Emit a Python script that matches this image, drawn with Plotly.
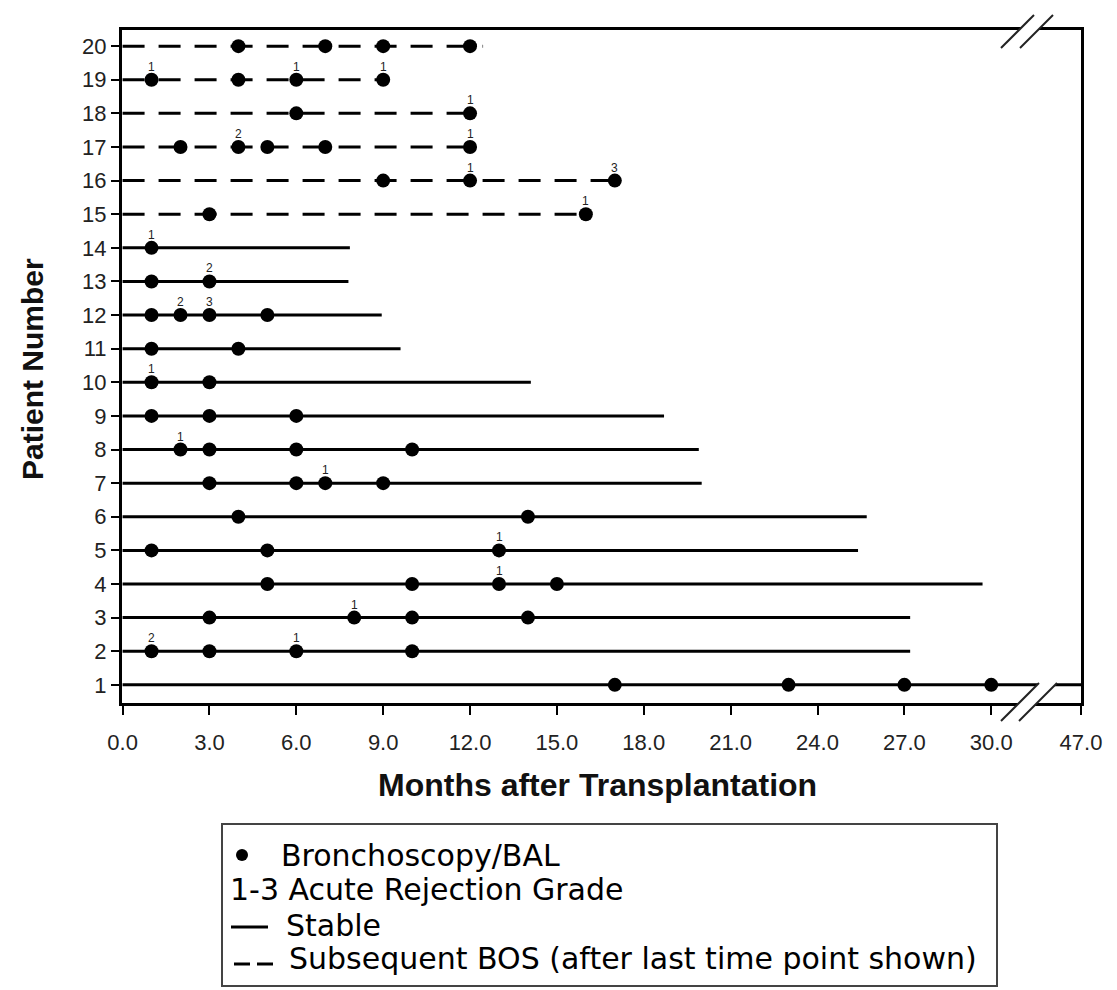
import plotly.graph_objects as go

# ---------------- data ----------------
PATIENTS = list(range(1, 21))
# months of follow-up shown for each patient (line end); patient 1 runs to 47 (axis break)
FOLLOWUP_END = [47, 27.2, 27.2, 29.7, 25.4, 25.7, 20.0, 19.9, 18.7, 14.1,
                9.6, 8.95, 7.8, 7.85, 16, 17, 12, 12, 9, 12.45]
# True = subsequent BOS (dashed), False = stable (solid)
SUBSEQUENT_BOS = [False] * 14 + [True] * 6
# months of bronchoscopy/BAL per patient
BRONCH_MONTHS = [
    [17, 23, 27, 30],   # 1
    [1, 3, 6, 10],      # 2
    [3, 8, 10, 14],     # 3
    [5, 10, 13, 15],    # 4
    [1, 5, 13],         # 5
    [4, 14],            # 6
    [3, 6, 7, 9],       # 7
    [2, 3, 6, 10],      # 8
    [1, 3, 6],          # 9
    [1, 3],             # 10
    [1, 4],             # 11
    [1, 2, 3, 5],       # 12
    [1, 3],             # 13
    [1],                # 14
    [3, 16],            # 15
    [9, 12, 17],        # 16
    [2, 4, 5, 7, 12],   # 17
    [6, 12],            # 18
    [1, 4, 6, 9],       # 19
    [4, 7, 9, 12],      # 20
]
# acute rejection grades: patient, month, grade
REJ_PATIENT = [2, 2, 3, 4, 5, 7, 8, 10, 12, 12, 13, 14, 15, 16, 16, 17, 17, 18, 19, 19, 19]
REJ_MONTH = [1, 6, 8, 13, 13, 7, 2, 1, 2, 3, 3, 1, 16, 12, 17, 4, 12, 12, 1, 6, 9]
REJ_GRADE = [2, 1, 1, 1, 1, 1, 1, 1, 2, 3, 2, 1, 1, 1, 3, 2, 1, 1, 1, 1, 1]

XTICK_MONTHS = [0, 3, 6, 9, 12, 15, 18, 21, 24, 27, 30, 47]
XTICK_LABELS = ["0.0", "3.0", "6.0", "9.0", "12.0", "15.0", "18.0", "21.0",
                "24.0", "27.0", "30.0", "47.0"]

LEGEND_LINES = ["Bronchoscopy/BAL", "1-3 Acute Rejection Grade", "Stable",
                "Subsequent BOS (after last time point shown)"]

# ---------------- scale with axis break ----------------
BREAK_FROM, TRUE_MAX, AXIS_END = 30.0, 47.0, 33.1


def to_axis(m):
    if m <= BREAK_FROM:
        return m
    return BREAK_FROM + (m - BREAK_FROM) * (AXIS_END - BREAK_FROM) / (TRUE_MAX - BREAK_FROM)


# ---------------- geometry helpers (screen pixels, page has 8px body margin) ----------------
OFF = 8
SCREEN_W, SCREEN_H = 1117, 990
P_LEFT, P_RIGHT, P_TOP, P_BOTTOM = 122, 1081, 30, 703
W, H = SCREEN_W - OFF, SCREEN_H - OFF
ML, MT = P_LEFT - OFF, P_TOP - OFF
PW, PH = P_RIGHT - P_LEFT, P_BOTTOM - P_TOP
MR, MB = W - ML - PW, H - MT - PH


def pxx(x):
    return (x - P_LEFT) / PW


def pxy(y):
    return (P_BOTTOM - y) / PH


fig = go.Figure()

for p, end, bos in zip(PATIENTS, FOLLOWUP_END, SUBSEQUENT_BOS):
    fig.add_trace(go.Scatter(
        x=[0, to_axis(end)], y=[p, p], mode="lines",
        line=dict(color="black", width=3, dash="22px,14px" if bos else "solid"),
        hoverinfo="skip", showlegend=False))

mx, my = [], []
for p, months in zip(PATIENTS, BRONCH_MONTHS):
    for m in months:
        mx.append(to_axis(m))
        my.append(p)
fig.add_trace(go.Scatter(x=mx, y=my, mode="markers",
                         marker=dict(symbol="circle", size=14, color="black"),
                         showlegend=False))

annotations = []
for p, m, g in zip(REJ_PATIENT, REJ_MONTH, REJ_GRADE):
    annotations.append(dict(x=to_axis(m), y=p, xref="x", yref="y", text=str(g),
                            showarrow=False, yshift=13, yanchor="middle",
                            font=dict(family="Liberation Sans Narrow, Liberation Sans", size=12, color="#222")))

# axis titles
annotations.append(dict(x=pxx(597), y=pxy(785), xref="paper", yref="paper",
                        text="<b>Months after Transplantation</b>", showarrow=False,
                        xanchor="center", yanchor="middle",
                        font=dict(family="Liberation Sans, Arial", size=32, color="#111")))
annotations.append(dict(x=pxx(32), y=pxy(369), xref="paper", yref="paper",
                        text="<b>Patient Number</b>", showarrow=False, textangle=-90,
                        xanchor="center", yanchor="middle",
                        font=dict(family="Liberation Sans, Arial", size=30, color="#111")))

# legend texts
LEG_FONT = dict(family="DejaVu Sans", size=30, color="black")
leg_pos = [(279, 855), (228, 890), (284, 925), (287, 958)]
for txt, (lx, ly) in zip(LEGEND_LINES, leg_pos):
    annotations.append(dict(x=pxx(lx), y=pxy(ly), xref="paper", yref="paper",
                            text=txt, showarrow=False, xanchor="left", yanchor="middle",
                            font=LEG_FONT))

shapes = []
# legend box
shapes.append(dict(type="rect", xref="paper", yref="paper",
                   x0=pxx(222), x1=pxx(997), y0=pxy(824), y1=pxy(986),
                   line=dict(color="#444", width=2), fillcolor="rgba(0,0,0,0)"))
# legend dot
shapes.append(dict(type="circle", xref="paper", yref="paper",
                   x0=pxx(236), x1=pxx(248), y0=pxy(849), y1=pxy(861),
                   line=dict(color="black", width=0), fillcolor="black"))
# legend solid
shapes.append(dict(type="line", xref="paper", yref="paper",
                   x0=pxx(231), x1=pxx(268), y0=pxy(927), y1=pxy(927),
                   line=dict(color="black", width=3)))
# legend dashes
for a, b in [(234, 250), (257, 273)]:
    shapes.append(dict(type="line", xref="paper", yref="paper",
                       x0=pxx(a), x1=pxx(b), y0=pxy(964), y1=pxy(964),
                       line=dict(color="black", width=3)))


def poly(points):
    return "M " + " L ".join(f"{pxx(a):.5f},{pxy(b):.5f}" for a, b in points) + " Z"


# axis-break marks (top border and bottom axis / patient 1 line)
for (a0, a1, b0, b1) in [((1001, 48), (1034, 15), (1020, 48), (1053, 15)),
                         ((1001, 721), (1039, 683), (1019, 721), (1057, 683))]:
    shapes.append(dict(type="path", xref="paper", yref="paper", layer="above",
                       path=poly([a0, a1, b1, b0]), fillcolor="white",
                       line=dict(width=0)))
    for s, e in [(a0, a1), (b0, b1)]:
        shapes.append(dict(type="line", xref="paper", yref="paper", layer="above",
                           x0=pxx(s[0]), y0=pxy(s[1]), x1=pxx(e[0]), y1=pxy(e[1]),
                           line=dict(color="#222", width=2)))

fig.update_layout(
    width=W, height=H,
    margin=dict(l=ML, r=MR, t=MT, b=MB, pad=0),
    paper_bgcolor="white", plot_bgcolor="white",
    showlegend=False,
    annotations=annotations, shapes=shapes,
    xaxis=dict(range=[-0.02, AXIS_END], tickvals=[to_axis(v) for v in XTICK_MONTHS],
               ticktext=XTICK_LABELS, showgrid=False, zeroline=False,
               showline=True, linecolor="black", linewidth=3, mirror=True,
               ticks="outside", ticklen=9, tickwidth=2, tickcolor="black",
               ticklabelstandoff=9,
               tickfont=dict(family="Liberation Sans, Arial", size=22, color="#222")),
    yaxis=dict(range=[0.46, 20.48], tickvals=PATIENTS, showgrid=False, zeroline=False,
               showline=True, linecolor="black", linewidth=3, mirror=True,
               ticks="outside", ticklen=8, tickwidth=2, tickcolor="black",
               tickfont=dict(family="Liberation Sans, Arial", size=22, color="#222")),
)

fig.write_html("out.html")
